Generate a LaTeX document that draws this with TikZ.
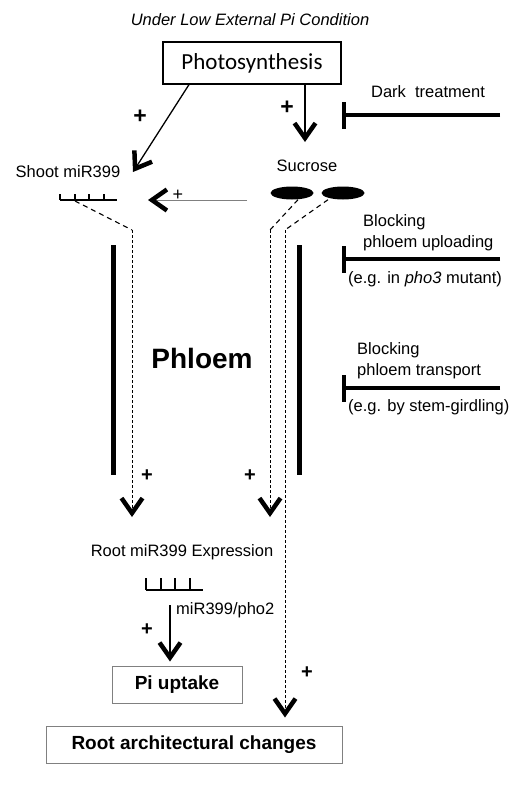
\documentclass[tikz,border=0pt]{standalone}
\usepackage{fontspec}
\setmainfont{Liberation Sans}
\newfontfamily\carlito{Carlito}
\usetikzlibrary{arrows.meta,shapes.geometric}

\tikzset{
	lbl/.style={font=\fontsize{16.5}{19}\selectfont, inner sep=0pt},
	plus sign/.style={font=\fontsize{23}{25}\selectfont\bfseries, inner sep=0pt},
	big arrow/.style={-{Straight Barb[length=15pt,width=21pt,line width=4.5pt]}},
	inhibit/.style={line width=3.5pt, -{Bar[width=27pt,line width=3.5pt]}},
	phloem wall/.style={line width=5pt},
	shoot flow/.style={line width=1.1pt, dash pattern=on 5pt off 4pt},
	root flow/.style={line width=0.9pt, dash pattern=on 3pt off 2pt},
	out box/.style={draw=gray, line width=1pt, minimum height=37pt, inner sep=0pt, font=\fontsize{19}{21}\selectfont\bfseries},
	sugar/.style={ellipse, fill, minimum width=43pt, minimum height=13pt, inner sep=0pt},
}

\begin{document}
\begin{tikzpicture}[x=1pt,y=-1pt]
	\useasboundingbox (0,0) rectangle (525,795);
	
	\node[lbl, font=\fontsize{16.5}{19}\selectfont\itshape] (cond) at (250,20) {Under Low External Pi Condition};
	\node[draw, line width=1.2pt, minimum width=178pt, minimum height=42pt, inner sep=0pt, font=\carlito\fontsize{23}{26}\selectfont] (photo) at (252,63) {Photosynthesis};
	
	\coordinate (shoottip) at (133,172);
	\coordinate (suctip) at (305,142);
	\draw[line width=1.3pt, big arrow] ([xshift=-63pt]photo.south) -- (shoottip);
	\draw[line width=1.3pt, big arrow] ([xshift=53pt]photo.south) -- (suctip);
	\node[plus sign] (p1) at (140,117) {+};
	\node[plus sign] (p2) at (287,108) {+};
	
	\node[lbl] (dark) at (428,92) {Dark\ \ treatment};
	\coordinate (darkfrom) at (500,115);
	\coordinate (darkbar) at (342,115);
	\draw[inhibit] (darkfrom) -- (darkbar);
	
	\node[lbl] (shoot) at (68,172) {Shoot miR399};
	\draw[line width=1.2pt] (60,200) -- (117,200);
	\foreach \x in {60,75,89,104}
		\draw[line width=1.2pt] (\x,194) -- (\x,200);
	\coordinate (shootmir) at (75,201);
	
	\node[lbl] (sucrose) at (307,166) {Sucrose};
	\node[sugar] (suca) at (292,193) {};
	\node[sugar] (sucb) at (343,193) {};
	\coordinate (sugarfrom) at (247,200);
	\coordinate (sugartip) at (148,200);
	\draw[gray, line width=0.9pt, -{Straight Barb[length=15pt,width=21pt,line width=4.5pt,color=black]}] (sugarfrom) -- (sugartip);
	\node[font=\fontsize{18}{20}\selectfont, inner sep=0pt] (p3) at (178,195) {+};
	
	\coordinate (bendL) at (132,230);
	\coordinate (bendM) at (270,230);
	\coordinate (bendR) at (285,230);
	\coordinate (tipL) at (132,517);
	\coordinate (tipM) at (270,517);
	\draw[shoot flow] (shootmir) -- (bendL);
	\draw[root flow, big arrow] (bendL) -- (tipL);
	\draw[shoot flow] ([xshift=6pt]suca.south) -- (bendM);
	\draw[root flow, big arrow] (bendM) -- (tipM);
	\draw[shoot flow] ([xshift=-15pt]sucb.south) -- (bendR);
	
	\draw[phloem wall] (113,245) -- (113,475);
	\draw[phloem wall] (299,245) -- (299,475);
	\node[font=\fontsize{28}{30}\selectfont\bfseries, inner sep=0pt] (phloem) at (202,358) {Phloem};
	
	\node[lbl, anchor=west] (blockA) at (363,222) {Blocking};
	\node[lbl, anchor=west] (uploadA) at (363,243) {phloem uploading};
	\node[lbl, anchor=west] (egA) at (348,279) {(e.g. in \textit{pho3} mutant)};
	\coordinate (upfrom) at (500,259);
	\coordinate (upbar) at (342,259);
	\draw[inhibit] (upfrom) -- (upbar);
	
	\node[lbl, anchor=west] (blockB) at (357,350) {Blocking};
	\node[lbl, anchor=west] (transB) at (357,371) {phloem transport};
	\node[lbl, anchor=west] (egB) at (348,407) {(e.g. by stem-girdling)};
	\coordinate (girdfrom) at (500,388);
	\coordinate (girdbar) at (342,388);
	\draw[inhibit] (girdfrom) -- (girdbar);
	
	\node[plus sign, font=\fontsize{20}{22}\selectfont\bfseries] (p4) at (147,476) {+};
	\node[plus sign, font=\fontsize{20}{22}\selectfont\bfseries] (p5) at (250,476) {+};
	
	\node[lbl] (rootmir) at (182,552) {Root miR399 Expression};
	\draw[line width=1.2pt] (146,590) -- (203,590);
	\foreach \x in {146,161,175,190}
		\draw[line width=1.2pt] (\x,578) -- (\x,590);
	
	\node[out box, minimum width=130pt] (pi) at (177,684.5) {Pi uptake};
	\node[out box, minimum width=296pt] (rac) at (194,744.5) {Root architectural changes};
	
	\coordinate (phofrom) at (170,605);
	\draw[line width=1.3pt, big arrow, shorten >=4pt] (phofrom) -- (phofrom |- pi.north);
	\node[lbl, anchor=west] (pho2) at (176,610) {miR399/pho2};
	\node[plus sign, font=\fontsize{20}{22}\selectfont\bfseries] (p6) at (147,630) {+};
	
	\draw[root flow, big arrow, shorten >=8pt] (bendR) -- (bendR |- rac.north);
	\node[plus sign, font=\fontsize{20}{22}\selectfont\bfseries] (p7) at (307,673) {+};
	
\end{tikzpicture}
\end{document}
